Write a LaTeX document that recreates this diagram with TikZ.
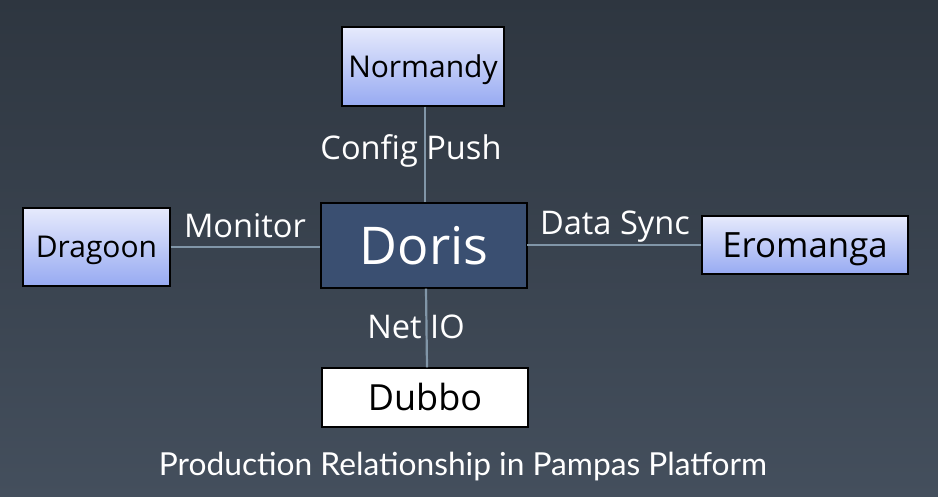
\documentclass[tikz,border=0pt]{standalone}
\usepackage{fontspec}
\setmainfont{Open Sans}
\newfontfamily\capfont{Lato}
\usetikzlibrary{positioning,calc}
\definecolor{bgtop}{HTML}{2E3640}
\definecolor{bgbot}{HTML}{444F5D}
\definecolor{boxtop}{HTML}{E6EAFC}
\definecolor{boxbot}{HTML}{97AAF2}
\definecolor{dorisfill}{HTML}{3A4F71}
\definecolor{linkcol}{HTML}{8196A8}
\tikzset{
  sysbox/.style={draw=black, line width=1.3pt, top color=boxtop, bottom color=boxbot,
    inner sep=0pt, text=black, align=center},
  whitebox/.style={draw=black, line width=1.3pt, fill=white, inner sep=0pt, text=black},
  corebox/.style={draw=black, line width=1.3pt, fill=dorisfill, inner sep=0pt, text=white},
  link/.style={draw=linkcol, line width=2.2pt},
  lbl/.style={text=white, anchor=base, inner sep=0pt, font=\fontsize{32.6}{38}\selectfont},
}
\begin{document}
\begin{tikzpicture}[x=1pt,y=-1pt]
\shade[top color=bgtop, bottom color=bgbot] (0,0) rectangle (938,497);
\useasboundingbox (0,0) rectangle (938,497);

\node[sysbox, minimum width=162pt, minimum height=79pt, text height=22pt, text depth=0pt,
  font=\fontsize{30}{35}\selectfont] (normandy) at (423,66.5) {Normandy};
\node[corebox, minimum width=206pt, minimum height=85pt, text height=38pt, text depth=0pt,
  font=\fontsize{52}{60}\selectfont] (doris) at (424,245.5) {Doris};
\node[sysbox, minimum width=147pt, minimum height=78pt, text height=22pt, text depth=0pt,
  font=\fontsize{30}{35}\selectfont] (dragoon) at (96.5,247) {Dragoon};
\node[sysbox, minimum width=206pt, minimum height=58pt, text height=25pt, text depth=0pt,
  font=\fontsize{34.8}{40}\selectfont] (eromanga) at (805,245) {Eromanga};
\node[whitebox, minimum width=206pt, minimum height=59pt, text height=26pt, text depth=0pt,
  font=\fontsize{36}{41}\selectfont] (dubbo) at (425,397.5) {Dubbo};

\draw[link] ($(normandy.south)+(2,0)$) -- ($(doris.north)+(1,0)$);
\draw[link] ($(doris.south)+(2,0)$) -- ($(dubbo.north)+(2,0)$);
\draw[link] (dragoon.east) -- (dragoon.east -| doris.west);
\draw[link] (doris.east) -- (doris.east |- eromanga.west) -- (eromanga.west);

\node[lbl] (lpush) at (411,160) {Config Push};
\node[lbl] (lmon) at (245,238) {Monitor};
\node[lbl] (lsync) at (615,235) {Data Sync};
\node[lbl] (lnet) at (416,338) {Net IO};
\node[text=white, anchor=base, inner sep=0pt, font=\capfont\fontsize{31.7}{37}\selectfont]
  (caption) at (463,475) {Production Relationship in Pampas Platform};
\end{tikzpicture}
\end{document}
